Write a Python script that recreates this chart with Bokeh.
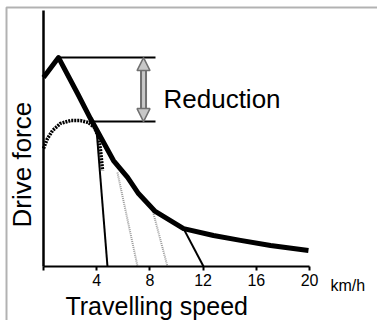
from bokeh.plotting import figure
from bokeh.models import Label, Arrow, NormalHead, FixedTicker, Range1d, BoxAnnotation
from bokeh.embed import file_html
from bokeh.resources import INLINE
import math

# ---- data (speed in km/h, drive force in relative units 0-100) ----
speed_std = [0, 1.13, 2.56, 3.53, 5.26, 6.32, 7.14, 8.4, 10.53, 12.78, 14.81, 17.07, 19.92]
force_std = [73.8, 81.6, 67.6, 57.8, 41.4, 34.8, 28.5, 21.5, 14.8, 12.1, 10.2, 8.2, 6.25]

speed_red = [0, 0.3, 0.68, 1.28, 2.03, 2.78, 3.38, 3.83, 4.14, 4.29, 4.44]
force_red = [46.1, 50.0, 53.1, 55.9, 57.0, 57.0, 56.25, 54.3, 50.4, 45.3, 37.5]

cut_black_x0 = [3.98, 10.53]
cut_black_y0 = [53.9, 14.8]
cut_black_x1 = [4.81, 12.03]
cut_black_y1 = [0, 0]

cut_grey_x0 = [5.56, 8.2]
cut_grey_y0 = [36.7, 22.0]
cut_grey_x1 = [7.07, 9.32]
cut_grey_y1 = [0, 0]

level_y = [81.6, 56.6]
level_x0 = [1.13, 3.4]
level_x1 = [8.42, 8.42]
arrow_x = 7.52

x_ticks = [0, 4, 8, 12, 16, 20]
x_max = 20
y_max = 100

FONT = "Liberation Sans"

X0, X1 = -3.233, 25.11
Y0, Y1 = -21.09, 103.91

p = figure(width=377, height=320, output_backend="svg", toolbar_location=None,
           x_range=Range1d(X0, X1), y_range=Range1d(Y0, Y1),
           min_border_left=0, min_border_right=0, min_border_top=0, min_border_bottom=0)
p.outline_line_color = None
p.grid.visible = False

p.xaxis.fixed_location = 0
p.xaxis.bounds = (0, x_max)
p.xaxis.ticker = FixedTicker(ticks=x_ticks)
p.xaxis.major_label_overrides = {0: ""}
p.xaxis.axis_line_width = 2
p.xaxis.major_tick_line_width = 2
p.xaxis.major_tick_out = 4
p.xaxis.major_tick_in = 0
p.xaxis.minor_tick_line_color = None
p.xaxis.major_label_standoff = 3
p.xaxis.major_label_text_font = FONT
p.xaxis.major_label_text_font_size = "16px"
p.xaxis.major_label_text_color = "black"

p.yaxis.fixed_location = 0
p.yaxis.bounds = (0, y_max)
p.yaxis.ticker = FixedTicker(ticks=[])
p.yaxis.axis_line_width = 2.5
p.yaxis.minor_tick_line_color = None
p.yaxis.major_label_text_font_size = "0px"

# picture frame (only top and left edges fall inside the picture)
p.add_layout(BoxAnnotation(left=-2.782, top=101.17, right=X1 + 5, bottom=Y0 - 5,
                           fill_alpha=0, line_color="black", line_width=2))

# cut-off lines
p.segment(cut_grey_x0, cut_grey_y0, cut_grey_x1, cut_grey_y1, line_color="#9a9a9a",
          line_width=2, line_dash="1 1")
p.segment(cut_black_x0, cut_black_y0, cut_black_x1, cut_black_y1, line_color="black",
          line_width=2)
# level lines
p.segment(level_x0, level_y, level_x1, level_y, line_color="black", line_width=2)
# curves
p.line(speed_red, force_red, line_color="black", line_width=3.5, line_dash="2 1")
p.line(speed_std, force_std, line_color="black", line_width=5, line_join="round")

# double arrow
p.add_layout(Arrow(x_start=arrow_x, y_start=level_y[1] + 4, x_end=arrow_x, y_end=level_y[0] - 4,
                   line_color="#707070", line_width=7, start=None, end=None))
p.add_layout(Arrow(x_start=arrow_x, y_start=level_y[1] + 4, x_end=arrow_x, y_end=level_y[0] - 4,
                   line_color="#c8c8c8", line_width=3, start=None, end=None))
p.add_layout(Arrow(x_start=arrow_x, y_start=(level_y[0] + level_y[1]) / 2, x_end=arrow_x, y_end=level_y[0],
                   line_color=None, line_width=0,
                   end=NormalHead(size=13, fill_color="#c8c8c8", line_color="#707070", line_width=1.5)))
p.add_layout(Arrow(x_start=arrow_x, y_start=(level_y[0] + level_y[1]) / 2, x_end=arrow_x, y_end=level_y[1],
                   line_color=None, line_width=0,
                   end=NormalHead(size=13, fill_color="#c8c8c8", line_color="#707070", line_width=1.5)))

# texts
p.add_layout(Label(x=9.02, y=65.6, text="Reduction", text_font=FONT, text_font_size="26px",
                   text_color="black", text_baseline="alphabetic", text_align="left"))
p.add_layout(Label(x=1.65, y=-15.4, text="Travelling speed", text_font=FONT, text_font_size="25px",
                   text_color="black", text_baseline="alphabetic", text_align="left"))
p.add_layout(Label(x=21.58, y=-7.4, text="km/h", text_font=FONT, text_font_size="16px",
                   text_color="black", text_baseline="alphabetic", text_align="left"))
p.add_layout(Label(x=-1.58, y=39.8, text="Drive force", text_font=FONT, text_font_size="26px",
                   text_color="black", text_baseline="middle", text_align="center",
                   angle=math.pi / 2))

open("out.html", "w").write(file_html(p, INLINE))
